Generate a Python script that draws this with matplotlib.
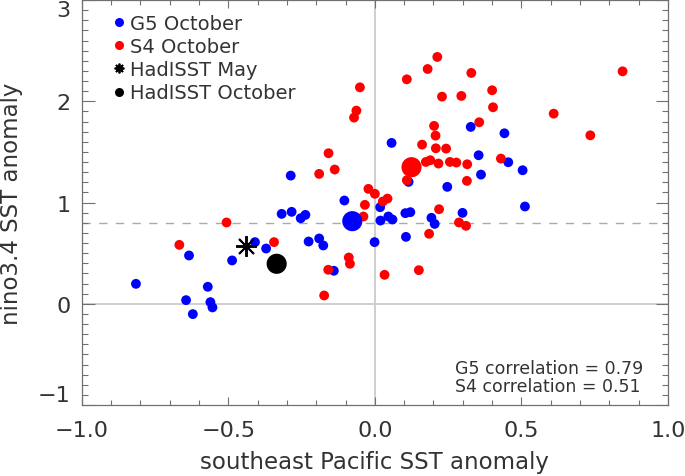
import matplotlib.pyplot as plt
from matplotlib.lines import Line2D
from matplotlib.ticker import MultipleLocator

# G5 October ensemble members (southeast Pacific SST anomaly, nino3.4 SST anomaly)
g5_x = [-0.815, -0.634, -0.644, -0.621, -0.570, -0.561, -0.554, -0.487, -0.409, -0.371,
        -0.318, -0.287, -0.284, -0.253, -0.237, -0.226, -0.190, -0.176, -0.140, -0.104,
        -0.001, 0.018, 0.019, 0.046, 0.060, 0.057, 0.104, 0.121, 0.106, 0.115,
        0.193, 0.204, 0.247, 0.299, 0.327, 0.354, 0.362, 0.442, 0.455, 0.504, 0.512]
g5_y = [0.197, 0.477, 0.036, -0.102, 0.168, 0.016, -0.036, 0.428, 0.609, 0.546,
        0.888, 1.266, 0.908, 0.845, 0.878, 0.615, 0.645, 0.576, 0.326, 1.020,
        0.609, 0.954, 0.822, 0.862, 0.832, 1.589, 0.895, 0.905, 0.661, 1.204,
        0.849, 0.789, 1.155, 0.898, 1.747, 1.467, 1.276, 1.684, 1.398, 1.319, 0.961]

# S4 October ensemble members
s4_x = [-0.667, -0.506, -0.344, -0.190, -0.158, -0.137, -0.159, -0.173, -0.089, -0.085,
        -0.071, -0.063, -0.051, -0.039, -0.034, -0.022, 0.000, 0.027, 0.043, 0.033,
        0.109, 0.109, 0.161, 0.150, 0.180, 0.174, 0.189, 0.185, 0.202, 0.207,
        0.208, 0.213, 0.217, 0.219, 0.229, 0.243, 0.256, 0.278, 0.287, 0.295,
        0.311, 0.314, 0.315, 0.329, 0.356, 0.400, 0.403, 0.430, 0.610, 0.735, 0.845]
s4_y = [0.582, 0.803, 0.609, 1.283, 1.487, 1.326, 0.336, 0.082, 0.457, 0.395,
        1.839, 1.908, 2.138, 0.862, 0.977, 1.135, 1.086, 1.010, 1.039, 0.286,
        2.217, 1.220, 1.572, 0.332, 2.319, 1.401, 1.418, 0.691, 1.757, 1.661,
        1.536, 2.438, 1.385, 0.934, 2.046, 1.533, 1.401, 1.395, 0.803, 2.053,
        0.770, 1.214, 1.378, 2.280, 1.793, 2.109, 1.941, 1.434, 1.878, 1.664, 2.296]

# ensemble means and observations
g5_mean = (-0.077, 0.816)
s4_mean = (0.125, 1.349)
hadisst_may = (-0.439, 0.566)
hadisst_oct = (-0.335, 0.395)
nino_threshold = 0.8

g5_corr = 0.79
s4_corr = 0.51

x_ticks = [-1.0, -0.5, 0.0, 0.5, 1.0]
y_ticks = [-1, 0, 1, 2, 3]

plt.rcParams["font.family"] = "DejaVu Sans"
TXT = "#333333"
FRAME = "#707070"
ASTERISK = (8, 2, 0)

fig = plt.figure(figsize=(6.85, 4.77), dpi=100)
ax = fig.add_axes([0.1193, 0.1488, 0.8559, 0.849])

ax.axvline(0, color="#cccccc", lw=1.3, zorder=1)
ax.axhline(0, color="#cccccc", lw=1.3, zorder=1)
ax.axhline(nino_threshold, color="#aaaaaa", lw=1.0, dashes=(6, 6), zorder=1)

ax.scatter(g5_x, g5_y, s=50, color="#0000ff", edgecolors="none", zorder=3)
ax.scatter(s4_x, s4_y, s=50, color="#ff0000", edgecolors="none", zorder=3)
ax.scatter(*g5_mean, s=210, color="#0000ff", edgecolors="none", zorder=4)
ax.scatter(*s4_mean, s=210, color="#ff0000", edgecolors="none", zorder=4)
ax.scatter(*hadisst_oct, s=210, color="black", edgecolors="none", zorder=4)
ax.plot(*hadisst_may, marker=ASTERISK, ms=15, mew=1.4, color="black", zorder=5)

ax.set_xlim(-1.0, 1.0)
ax.set_ylim(-1.0, 3.0)
ax.set_xticks(x_ticks, [f"{v:.1f}".replace("-", "\u2212") for v in x_ticks])
ax.set_yticks(y_ticks, [f"{v:d}".replace("-", "\u2212") for v in y_ticks])
ax.xaxis.set_minor_locator(MultipleLocator(0.1))
ax.yaxis.set_minor_locator(MultipleLocator(0.1))

ax.tick_params(which="both", direction="in", top=True, right=True,
               color=FRAME, width=0.8, labelcolor=TXT, labelsize=16)
ax.tick_params(axis="x", which="major", length=6, pad=11)
ax.tick_params(axis="x", which="minor", length=3.5)
ax.tick_params(axis="y", which="major", length=9, pad=8)
ax.tick_params(axis="y", which="minor", length=4.5)
# keep the end labels inside the frame, like the original
ticks = ax.yaxis.get_major_ticks()
ticks[0].label1.set_va("bottom")
ticks[-1].label1.set_va("top")
for sp in ax.spines.values():
    sp.set_color(FRAME)
    sp.set_linewidth(0.9)

ax.set_xlabel("southeast Pacific SST anomaly", fontsize=16.5, color=TXT, labelpad=7)
ax.set_ylabel("nino3.4 SST anomaly", fontsize=16.5, color=TXT, labelpad=11)

handles = [
    Line2D([], [], ls="none", marker="o", ms=6.5, mew=0, color="#0000ff"),
    Line2D([], [], ls="none", marker="o", ms=6.5, mew=0, color="#ff0000"),
    Line2D([], [], ls="none", marker=ASTERISK, ms=7, mew=1.3, color="black"),
    Line2D([], [], ls="none", marker="o", ms=6.5, mew=0, color="black"),
]
labels = ["G5 October", "S4 October", "HadISST May", "HadISST October"]
leg = ax.legend(handles, labels, loc="upper left", frameon=False, fontsize=14,
                handlelength=0.6, handletextpad=0.3, labelspacing=0.22,
                borderaxespad=0.3, bbox_to_anchor=(0.03, 1.0))
for t in leg.get_texts():
    t.set_color(TXT)

ax.text(0.957, 0.07, f"G5 correlation = {g5_corr:.2f}\nS4 correlation = {s4_corr:.2f}",
        transform=ax.transAxes, ha="right", va="center", ma="left",
        fontsize=12.5, color=TXT, linespacing=1.0)

fig.savefig("out.png", dpi=100)
